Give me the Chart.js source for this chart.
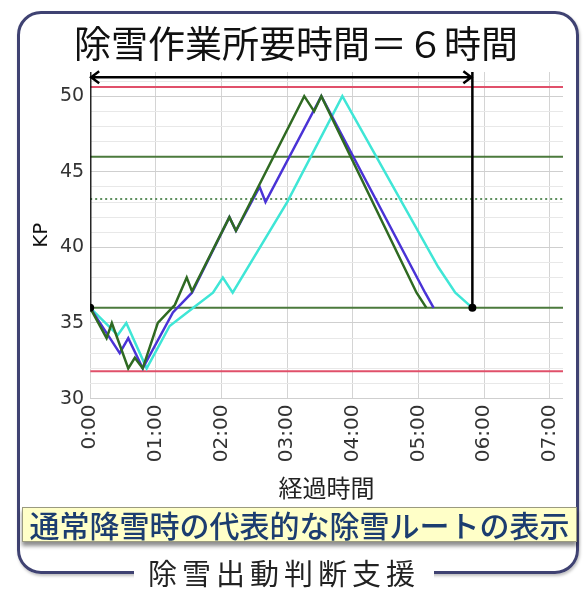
<!DOCTYPE html>
<html>
<head>
<meta charset="utf-8">
<script src="https://cdn.jsdelivr.net/npm/chart.js@4"></script>
<style>
  body { margin: 0; background: #fff; }
  #wrap { position: relative; width: 585px; height: 589px; overflow: hidden; }
  #frame { position: absolute; left: 17px; top: 11px; width: 556px; height: 557px;
           border: 3px solid #3f4272; border-radius: 24px; box-shadow: 1px 2px 3px rgba(0,0,0,0.25); }
  canvas { position: absolute; left: 0; top: 0; }
  #title { position: absolute; left: 0; width: 592px; top: 18px; text-align: center;
           font: 37px "Noto Sans CJK JP"; color: #111; line-height: 48px; }
  #note { position: absolute; left: 22px; top: 507px; width: 553px; height: 33px;
          background: #ffffc8; border: 1px solid #9a9a80; box-shadow: 0 4px 4px rgba(0,0,0,0.45);
          font: 500 30px "Noto Sans CJK JP"; color: #1c3d70; text-align: center; line-height: 33px; }
  #cap { position: absolute; left: 134px; width: 300px; top: 554px; background: #fff; text-align: center;
         font: 29px "Noto Sans CJK JP"; color: #222; letter-spacing: 5px; line-height: 36px; }
</style>
</head>
<body>
<div id="wrap">
  <div id="frame"></div>
  <canvas id="canvas" width="585" height="589"></canvas>
  <div id="title">除雪作業所要時間＝６時間</div>
  <div id="note">通常降雪時の代表的な除雪ルートの表示</div>
  <div id="cap">除雪出動判断支援</div>
</div>
<script>
const Chart = window.Chart;
const ctx = document.getElementById('canvas');

// elapsed hours / KP for each route
const greenTime = [0, 0.25, 0.33, 0.58, 0.68, 0.80, 1.03, 1.29, 1.47, 1.55, 2.12, 2.22, 3.26, 3.41, 3.52, 4.97, 5.12];
const greenKp   = [36, 34, 35, 32, 32.7, 32, 35, 36.2, 38, 37.1, 42, 41.1, 50, 49, 50, 37, 36];
const blueTime  = [0, 0.45, 0.58, 0.80, 1.26, 1.55, 2.12, 2.22, 2.58, 2.67, 3.52, 5.10, 5.23];
const blueKp    = [36, 33, 34, 32, 35.7, 37, 42, 41.1, 44, 43, 50, 37, 36];
const cyanTime  = [0, 0.42, 0.55, 0.86, 1.21, 1.57, 1.87, 2.02, 2.17, 3.0, 3.84, 5.30, 5.56, 5.82];
const cyanKp    = [36, 34.2, 35, 32, 34.8, 36, 37, 38, 37, 43, 50, 38.7, 37, 36];

// horizontal reference levels
const redLevels = [50.6, 31.8];
const greenLevels = [46, 36];
const dottedLevel = 43.2;

// 6 hour bracket
const workStart = 0;
const workEnd = 5.82;
const baseKp = 36;
const arrowKp = 51.25;

const xMax = 7.2;
const yMin = 30;
const yMax = 51.6;
const hourTicks = [0, 1, 2, 3, 4, 5, 6, 7];
const hourLabels = ['0:00', '01:00', '02:00', '03:00', '04:00', '05:00', '06:00', '07:00'];

const pts = (xs, ys) => xs.map((x, i) => ({ x: x, y: ys[i] }));
const flat = (v) => [{ x: 0, y: v }, { x: xMax, y: v }];

const route = (xs, ys, color) => ({
  data: pts(xs, ys), borderColor: color, borderWidth: 2.5, pointRadius: 0, tension: 0
});
const level = (v, color, dash) => ({
  data: flat(v), borderColor: color, borderWidth: 2, borderDash: dash || [], pointRadius: 0
});
const bracket = (x) => ({
  data: [{ x: x, y: baseKp }, { x: x, y: yMax }], borderColor: '#000', borderWidth: 2.5,
  pointRadius: [4, 0], pointBackgroundColor: '#000', pointBorderWidth: 0
});

const arrowPlugin = {
  id: 'arrow',
  afterDatasetsDraw(chart) {
    const c = chart.ctx;
    const xs = chart.scales.x, ys = chart.scales.y;
    const x0 = xs.getPixelForValue(workStart), x1 = xs.getPixelForValue(workEnd);
    const y = ys.getPixelForValue(arrowKp);
    c.save();
    c.strokeStyle = '#000';
    c.lineWidth = 2.5;
    c.beginPath();
    c.moveTo(x0, y); c.lineTo(x1, y);
    c.moveTo(x0 + 9, y - 6); c.lineTo(x0 + 1, y); c.lineTo(x0 + 9, y + 6);
    c.moveTo(x1 - 9, y - 6); c.lineTo(x1 - 1, y); c.lineTo(x1 - 9, y + 6);
    c.stroke();
    c.restore();
  }
};

new Chart(ctx, {
  type: 'line',
  data: {
    datasets: [
      bracket(workStart),
      bracket(workEnd),
      route(greenTime, greenKp, '#2f6a22'),
      route(blueTime, blueKp, '#4a33d6'),
      route(cyanTime, cyanKp, '#3fe6d6'),
      level(redLevels[0], '#e0506a'),
      level(redLevels[1], '#e0506a'),
      level(greenLevels[0], '#4b7a3c'),
      level(greenLevels[1], '#4b7a3c'),
      level(dottedLevel, '#5e8f5e', [2, 3])
    ]
  },
  options: {
    responsive: false,
    animation: false,
    layout: { padding: { left: 32, right: 22, top: 72, bottom: 87 } },
    scales: {
      x: {
        type: 'linear', min: 0, max: xMax,
        border: { display: false },
        grid: { color: '#d4d4d4', drawTicks: false },
        afterBuildTicks: (axis) => { axis.ticks = hourTicks.map(v => ({ value: v })); },
        ticks: {
          minRotation: 90, maxRotation: 90, padding: 6, color: '#333', autoSkip: false,
          font: { family: 'DejaVu Sans', size: 20 },
          callback: (v) => hourLabels[hourTicks.indexOf(v)]
        },
        title: { display: true, text: '経過時間', color: '#222', padding: { top: 5, bottom: 0 },
                 font: { family: 'Noto Sans CJK JP', size: 24 } }
      },
      y: {
        min: yMin, max: yMax,
        border: { display: false },
        grid: {
          drawTicks: false,
          color: (c) => (c.tick.value % 5 === 0 ? '#cfcfcf' : '#e8e8e8')
        },
        ticks: {
          stepSize: 1, includeBounds: false, padding: 6, color: '#333', autoSkip: false,
          font: { family: 'DejaVu Sans', size: 19 },
          callback: (v) => (v % 5 === 0 ? v : '')
        },
        title: { display: true, text: 'KP', color: '#111', padding: { top: 0, bottom: 2 },
                 font: { family: 'DejaVu Sans', size: 20, lineHeight: 1 } }
      }
    },
    plugins: {
      legend: { display: false },
      tooltip: { enabled: false }
    }
  },
  plugins: [arrowPlugin]
});
</script>
</body>
</html>
